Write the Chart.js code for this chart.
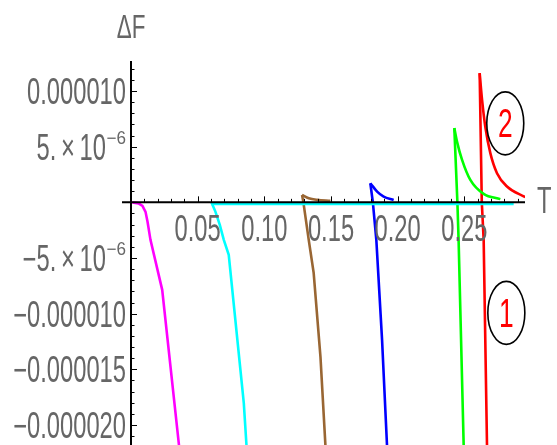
<!DOCTYPE html>
<html>
<head>
<meta charset="utf-8">
<script src="https://cdn.jsdelivr.net/npm/chart.js@4.4.0/dist/chart.umd.min.js"></script>
<style>
    html, body { margin: 0; padding: 0; background: #ffffff; }
    #wrap { width: 557px; height: 445px; }
</style>
</head>
<body>
<div id="wrap"><canvas id="freeEnergy"></canvas></div>
<script>
// T and ΔF, one pair of arrays per branch
const magentaT = [0.001, 0.0056, 0.0086, 0.0109, 0.0124, 0.0146, 0.0234, 0.0358, 0.0372];
const magentaF = [0, -0.09e-6, -0.31e-6, -0.85e-6, -1.75e-6, -3.37e-6, -7.86e-6, -21.6e-6, -23.3e-6];

const cyanT = [0.0603, 0.0633, 0.0666, 0.0696, 0.0733, 0.0846, 0.0866, 0.0872];
const cyanF = [0, -0.83e-6, -2.02e-6, -3.37e-6, -4.72e-6, -18.04e-6, -21.8e-6, -23.5e-6];
const cyanFlatT = [0.0603, 0.287];
const cyanFlatF = [-0.15e-6, -0.15e-6];

const brownT1 = [0.1283, 0.1293, 0.1333, 0.1370, 0.1421, 0.1458, 0.1466];
const brownF1 = [0.67e-6, 0, -3.37e-6, -6.33e-6, -13.88e-6, -21.79e-6, -23.5e-6];
const brownT2 = [0.1283, 0.1333, 0.1396, 0.1495];
const brownF2 = [0.67e-6, 0.37e-6, 0.22e-6, 0.13e-6];

const blueT1 = [0.1795, 0.1814, 0.1840, 0.1883, 0.1920, 0.1927];
const blueF1 = [1.72e-6, 0, -3.37e-6, -12.35e-6, -21.8e-6, -23.5e-6];
const blueT2 = [0.1795, 0.1846, 0.1895, 0.1970];
const blueF2 = [1.72e-6, 0.97e-6, 0.52e-6, 0.22e-6];

const greenT1 = [0.2425, 0.2448, 0.2457, 0.2495, 0.2501];
const greenF1 = [6.67e-6, 0, -3.37e-6, -21.8e-6, -23.5e-6];
const greenT2 = [0.2425, 0.2445, 0.2483, 0.2545, 0.2645, 0.2770];
const greenF2 = [6.67e-6, 5.46e-6, 3.82e-6, 2.02e-6, 0.76e-6, 0.29e-6];

const redT1 = [0.2615, 0.2631, 0.2645, 0.2670, 0.2676];
const redF1 = [11.61e-6, 0, -3.37e-6, -21.8e-6, -23.5e-6];
const redT2 = [0.2615, 0.2633, 0.2657, 0.2695, 0.2745, 0.2820, 0.2957];
const redF2 = [11.61e-6, 9.21e-6, 6.81e-6, 4.42e-6, 2.62e-6, 1.42e-6, 0.47e-6];

// tick labels
const xTickValues = [0.05, 0.10, 0.15, 0.20, 0.25];
const xTickLabels = ['0.05', '0.10', '0.15', '0.20', '0.25'];
const yTickValues = [10e-6, 5e-6, -5e-6, -10e-6, -15e-6, -20e-6];
const yTickBase = ['0.000010', '5.\u2009\u00d7\u200910', '\u22125.\u2009\u00d7\u200910', '\u22120.000010', '\u22120.000015', '\u22120.000020'];
const yTickPower = ['', '\u22126', '\u22126', '', '', ''];

// circled branch numbers
const markT = [0.2807, 0.2815];
const markF = [7.10e-6, -9.93e-6];
const markText = ['2', '1'];

const FONT = '"Liberation Sans", Arial, sans-serif';
const GREY = '#666666';
let squeeze = 1;

function pts(ts, fs) {
    return ts.map((t, i) => ({ x: t, y: fs[i] }));
}

function line(ts, fs, color, smooth) {
    return {
        data: pts(ts, fs),
        borderColor: color,
        borderWidth: 2.6,
        showLine: true,
        pointRadius: 0,
        fill: false,
        cubicInterpolationMode: smooth ? 'monotone' : 'default',
        tension: 0
    };
}

// narrow text, like the Mathematica labels
function text(ctx, str, x, y, align, size, color, sq) {
    const s = sq || squeeze;
    ctx.save();
    ctx.font = size + 'px ' + FONT;
    ctx.fillStyle = color;
    ctx.textAlign = 'left';
    ctx.textBaseline = 'alphabetic';
    const w = ctx.measureText(str).width * s;
    let left = x;
    if (align === 'right') left = x - w;
    if (align === 'center') left = x - w / 2;
    ctx.translate(left, y);
    ctx.scale(s, 1);
    ctx.fillText(str, 0, 0);
    ctx.restore();
    return w;
}

function textWidth(ctx, str, size, sq) {
    ctx.save();
    ctx.font = size + 'px ' + FONT;
    const w = ctx.measureText(str).width * (sq || squeeze);
    ctx.restore();
    return w;
}

const mathAxes = {
    id: 'mathAxes',
    afterDatasetsDraw(chart) {
        const { ctx, scales: { x, y } } = chart;
        const x0 = x.getPixelForValue(0);
        const y0 = y.getPixelForValue(0);

        ctx.save();
        ctx.font = '36px ' + FONT;
        squeeze = 99 / ctx.measureText('0.000010').width;

        ctx.strokeStyle = '#000000';
        ctx.lineWidth = 2;
        ctx.beginPath();
        ctx.moveTo(x0 - 9, y0);
        ctx.lineTo(x.right, y0);
        ctx.moveTo(x0, y.top);
        ctx.lineTo(x0, y.bottom);
        ctx.stroke();

        // minor / major ticks, pointing into the plot
        ctx.lineWidth = 1;
        ctx.beginPath();
        for (let i = 1; i <= 29; i++) {
            const px = Math.round(x.getPixelForValue(i / 100)) + 0.5;
            const len = (i % 5 === 0) ? 6 : 3.5;
            ctx.moveTo(px, y0);
            ctx.lineTo(px, y0 - len);
        }
        for (let j = -21; j <= 12; j++) {
            if (j === 0) continue;
            const py = Math.round(y.getPixelForValue(j * 1e-6)) + 0.5;
            const len = (j % 5 === 0) ? 6 : 3.5;
            ctx.moveTo(x0, py);
            ctx.lineTo(x0 + len, py);
        }
        ctx.stroke();
        ctx.restore();

        // tick labels
        xTickValues.forEach((v, i) => {
            text(ctx, xTickLabels[i], x.getPixelForValue(v), y0 + 39, 'center', 36, GREY);
        });
        yTickValues.forEach((v, i) => {
            const py = y.getPixelForValue(v);
            let right = 126;
            if (yTickPower[i]) {
                const sw = textWidth(ctx, yTickPower[i], 18, 0.95);
                text(ctx, yTickPower[i], right, py - 3, 'right', 18, GREY, 0.95);
                right = right - sw - 0.5;
            }
            text(ctx, yTickBase[i], right, py + 13, 'right', 36, GREY);
        });

        // axis names
        text(ctx, '\u0394F', x0, 38, 'center', 34, GREY);
        text(ctx, 'T', x.right + 12, y0 + 11, 'left', 36, GREY);

        // circled branch numbers
        markT.forEach((t, i) => {
            const cx = x.getPixelForValue(t);
            const cy = y.getPixelForValue(markF[i]);
            ctx.save();
            ctx.strokeStyle = '#000000';
            ctx.lineWidth = 1.6;
            ctx.beginPath();
            ctx.ellipse(cx, cy, 18.5, 31.5, 0, 0, Math.PI * 2);
            ctx.stroke();
            ctx.restore();
            text(ctx, markText[i], cx, cy + 14, 'center', 40, '#ff0000');
        });
    }
};

new Chart(
    document.getElementById('freeEnergy'),
    {
        type: 'scatter',
        data: {
            datasets: [
                line(magentaT, magentaF, '#ff00ff', false),
                line(cyanFlatT, cyanFlatF, '#00ffff', false),
                line(cyanT, cyanF, '#00ffff', false),
                line(brownT1, brownF1, '#996633', false),
                line(brownT2, brownF2, '#996633', true),
                line(blueT1, blueF1, '#0000ff', false),
                line(blueT2, blueF2, '#0000ff', true),
                line(greenT1, greenF1, '#00ff00', false),
                line(greenT2, greenF2, '#00ff00', true),
                line(redT1, redF1, '#ff0000', false),
                line(redT2, redF2, '#ff0000', true)
            ]
        },
        options: {
            responsive: true,
            maintainAspectRatio: false,
            animation: false,
            layout: {
                padding: { left: 131, right: 32, top: 61, bottom: 0 }
            },
            plugins: {
                legend: { display: false },
                tooltip: { enabled: false }
            },
            scales: {
                x: { type: 'linear', min: 0, max: 0.2955, display: false },
                y: { type: 'linear', min: -21.8e-6, max: 12.7e-6, display: false }
            }
        },
        plugins: [mathAxes]
    }
);
</script>
</body>
</html>
